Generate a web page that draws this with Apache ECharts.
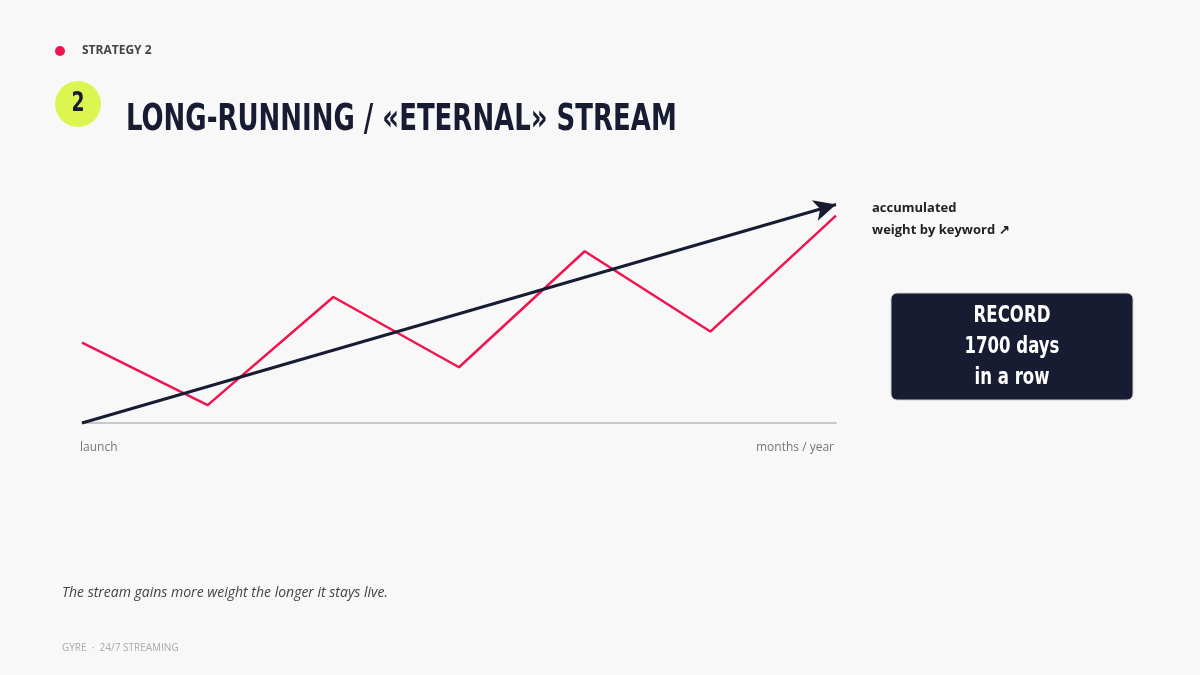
<!DOCTYPE html>
<html><head><meta charset="utf-8">
<script src="https://cdn.jsdelivr.net/npm/echarts@6/dist/echarts.min.js"></script>
<style>html,body{margin:0;padding:0;background:#f8f8f9}#c{width:1200px;height:675px}</style>
</head><body><div id="c"></div>
<script>
const xs = [0, 1, 2, 3, 4, 5, 6];
const weight = [36, 8, 56.5, 25, 77, 41, 93];
const trend = [[0, 0], [6, 98]];
const axisLabels = ['launch', 'months / year'];
const cond = '"Liberation Sans Narrow","DejaVu Sans Condensed",sans-serif';
const ch = echarts.init(document.getElementById('c'));
ch.setOption({
  backgroundColor: '#f8f8f9',
  animation: false,
  grid: {left: 82, right: 364, top: 200, bottom: 252},
  xAxis: {type: 'value', min: 0, max: 6, axisLine: {show: true, lineStyle: {color: '#c8c8cc', width: 2}}, axisTick: {show: false}, axisLabel: {show: false}, splitLine: {show: false}},
  yAxis: {type: 'value', min: 0, max: 100, show: false},
  series: [
    {type: 'line', data: xs.map((x, i) => [x, weight[i]]), symbol: 'none', lineStyle: {color: '#f0144f', width: 2.5}},
    {type: 'line', data: [], markLine: {silent: true, symbol: ['none', 'arrow'], symbolSize: [16, 22], label: {show: false},
      lineStyle: {color: '#181c33', width: 3, type: 'solid'},
      data: [[{coord: trend[0]}, {coord: trend[1]}]]}}
  ],
  graphic: [
    {type: 'circle', shape: {cx: 60, cy: 51, r: 5}, style: {fill: '#f0144f'}},
    {type: 'text', left: 82, top: 45, style: {text: 'STRATEGY 2', font: 'bold 12px "Open Sans",sans-serif', fill: '#444'}},
    {type: 'circle', shape: {cx: 78, cy: 104, r: 23}, style: {fill: '#dcf550'}},
    {type: 'text', x: 78, y: 104, scaleX: 0.8, style: {text: '2', font: 'bold 26px ' + cond, fill: '#181c33', align: 'center', verticalAlign: 'middle'}},
    {type: 'text', x: 126, y: 120, scaleX: 0.76, style: {text: 'LONG-RUNNING / «ETERNAL» STREAM', font: 'bold 38px ' + cond, fill: '#181c33', verticalAlign: 'middle'}},
    {type: 'text', left: 872, top: 197, style: {text: 'accumulated\nweight by keyword ↗', font: 'bold 13px "Open Sans",sans-serif', fill: '#222', lineHeight: 22}},
    {type: 'rect', shape: {x: 891, y: 293, width: 242, height: 107, r: 6}, style: {fill: '#181c33', stroke: '#cfcfd6', lineWidth: 1}},
    {type: 'text', x: 1012, y: 347, scaleX: 0.8, style: {text: 'RECORD\n1700 days\nin a row', font: 'bold 23px ' + cond, fill: '#fff', align: 'center', verticalAlign: 'middle', lineHeight: 31}},
    {type: 'text', left: 80, top: 442, style: {text: axisLabels[0], font: '12px "Open Sans",sans-serif', fill: '#777'}},
    {type: 'text', right: 366, top: 442, style: {text: axisLabels[1], font: '12px "Open Sans",sans-serif', fill: '#777', align: 'right'}},
    {type: 'text', left: 62, top: 586, style: {text: 'The stream gains more weight the longer it stays live.', font: 'italic 14px "Open Sans",sans-serif', fill: '#444'}},
    {type: 'text', left: 62, top: 643, style: {text: 'GYRE  ·  24/7 STREAMING', font: '10px "Open Sans",sans-serif', fill: '#aaa'}}
  ]
});
</script></body></html>
